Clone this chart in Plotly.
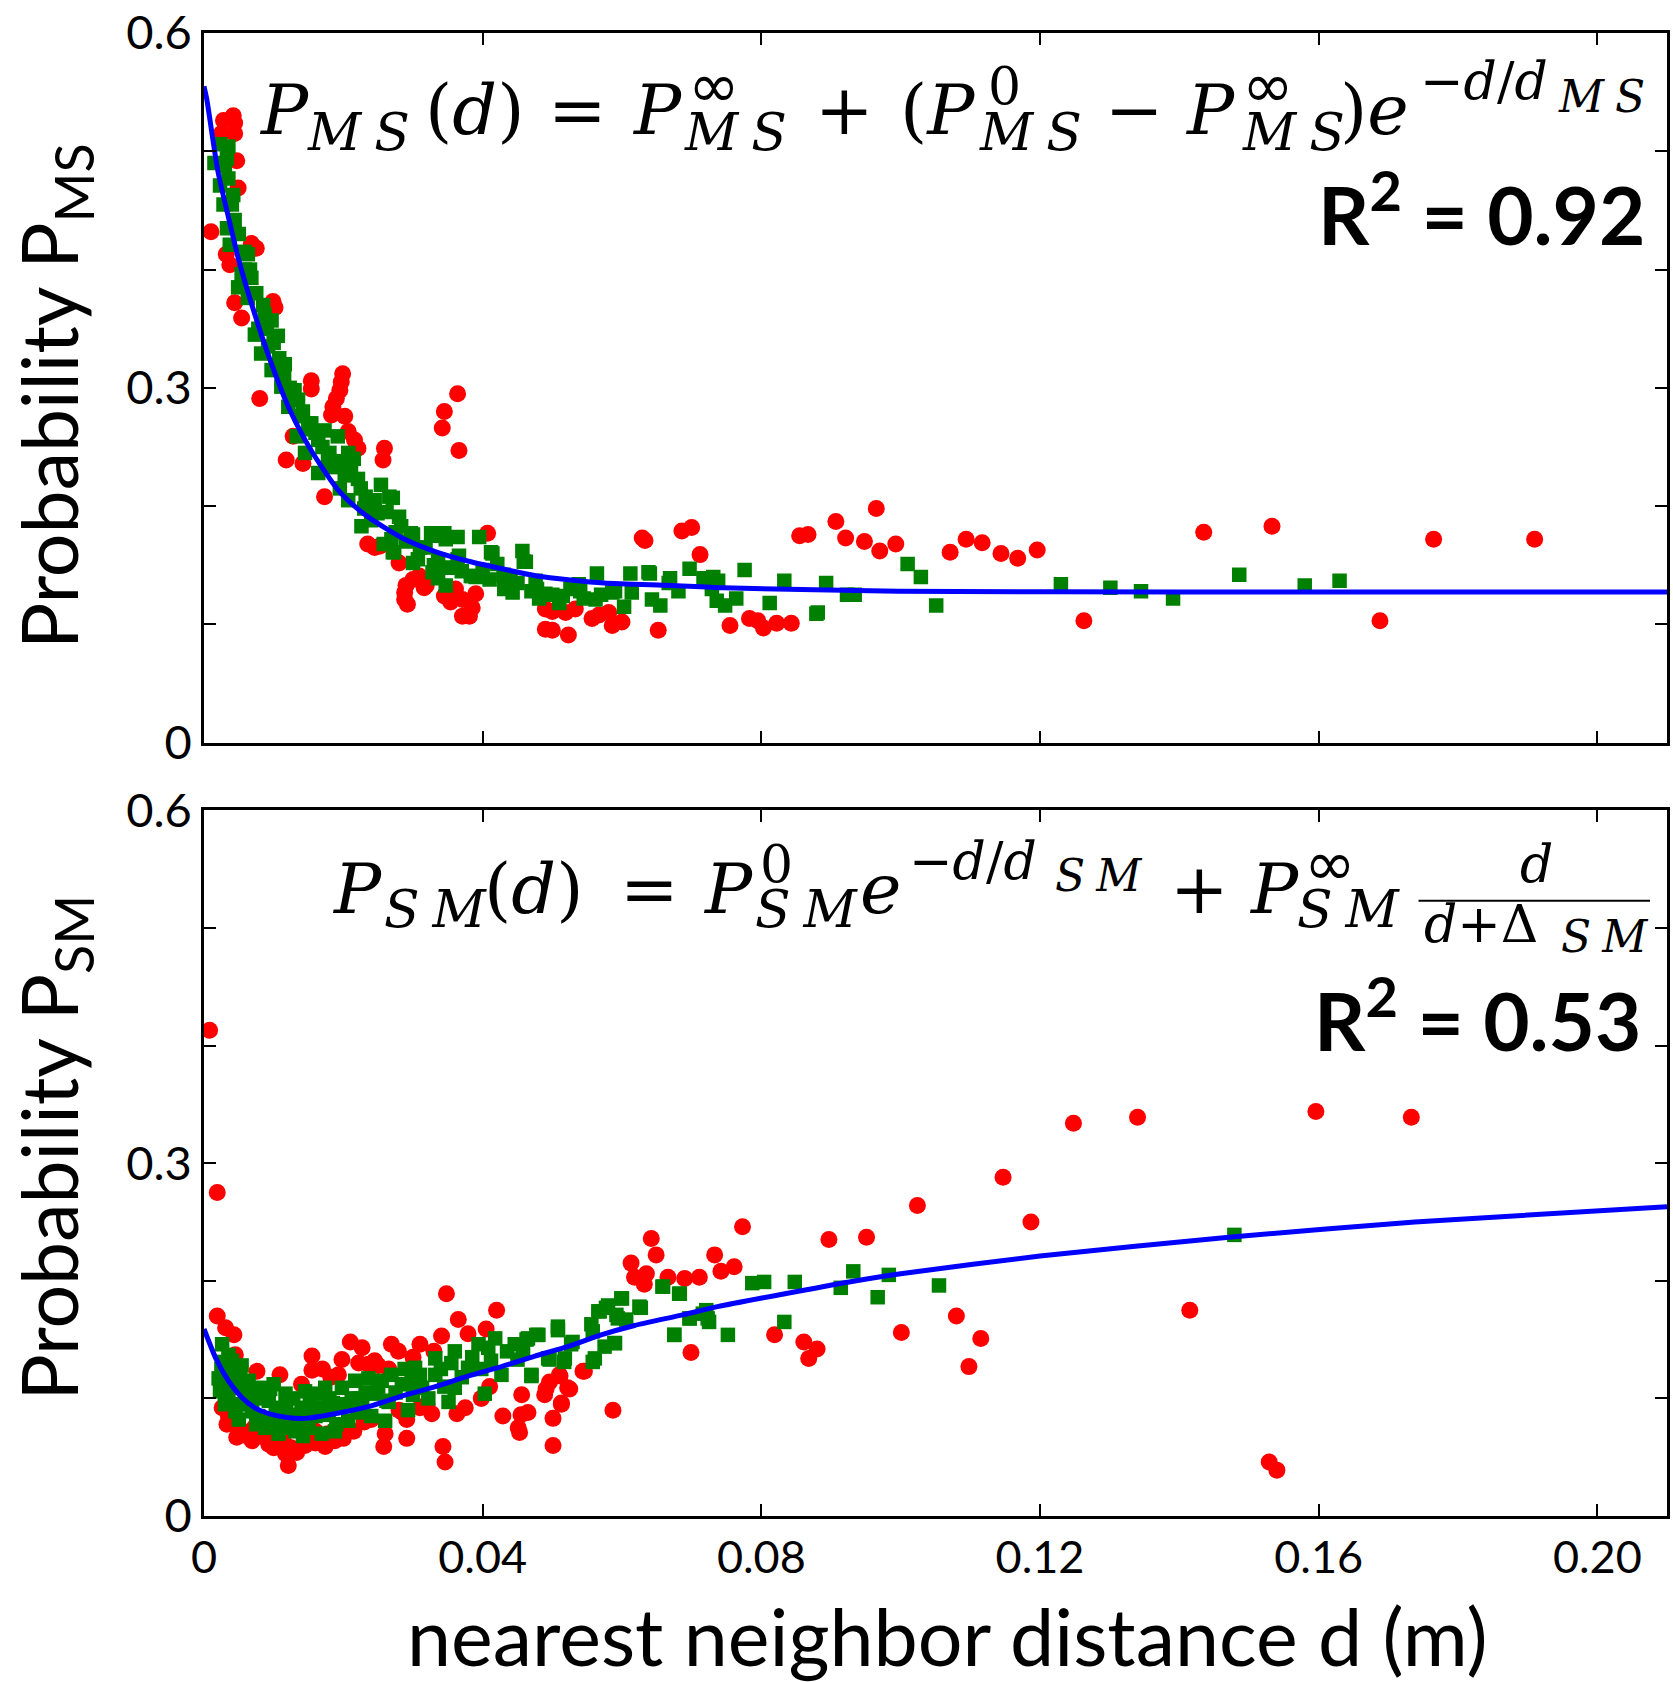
import plotly.graph_objects as go

# ---------------- data: top panel (P_MS) ----------------
ms_red_d = [0.0010, 0.0025, 0.0028, 0.0042, 0.0044, 0.0044, 0.0047, 0.0049, 0.0068, 0.0075,
            0.0032, 0.0037, 0.0099, 0.0102, 0.0044, 0.0054, 0.0080, 0.0154, 0.0154, 0.0199,
            0.0197, 0.0195, 0.0190, 0.0185, 0.0183, 0.0202, 0.0207, 0.0216, 0.0221, 0.0128,
            0.0118, 0.0142, 0.0173, 0.0259, 0.0257, 0.0364, 0.0345, 0.0342, 0.0366, 0.0235,
            0.0245, 0.0252, 0.0407, 0.0280, 0.0288, 0.0288, 0.0290, 0.0300, 0.0319, 0.0309,
            0.0347, 0.0354, 0.0371, 0.0381, 0.0385, 0.0390, 0.0371, 0.0361, 0.0316, 0.0345,
            0.0292, 0.0490, 0.0500, 0.0490, 0.0500, 0.0523, 0.0519, 0.0533, 0.0557, 0.0567,
            0.0586, 0.0600, 0.0581, 0.0629, 0.0633, 0.0652, 0.0686, 0.0700, 0.0712, 0.0755,
            0.0783, 0.0795, 0.0803, 0.0822, 0.0843, 0.0855, 0.0867, 0.0907, 0.0921, 0.0948,
            0.0965, 0.0970, 0.0993, 0.1071, 0.1094, 0.1117, 0.1144, 0.1168, 0.1196, 0.1263,
            0.1435, 0.1533, 0.1688, 0.1765, 0.1910]
ms_red_p = [0.432, 0.515, 0.526, 0.530, 0.524, 0.515, 0.492, 0.469, 0.422, 0.418,
            0.413, 0.404, 0.373, 0.368, 0.372, 0.359, 0.291, 0.306, 0.299, 0.312,
            0.305, 0.298, 0.291, 0.284, 0.277, 0.276, 0.263, 0.256, 0.249, 0.259,
            0.239, 0.236, 0.208, 0.249, 0.239, 0.295, 0.280, 0.266, 0.247, 0.168,
            0.165, 0.166, 0.177, 0.152, 0.127, 0.121, 0.133, 0.138, 0.133, 0.141,
            0.126, 0.119, 0.107, 0.107, 0.114, 0.126, 0.121, 0.130, 0.131, 0.124,
            0.117, 0.113, 0.111, 0.096, 0.095, 0.091, 0.110, 0.113, 0.105, 0.108,
            0.099, 0.102, 0.110, 0.173, 0.171, 0.095, 0.179, 0.182, 0.159, 0.099,
            0.105, 0.103, 0.097, 0.101, 0.101, 0.175, 0.176, 0.187, 0.173, 0.170,
            0.198, 0.162, 0.168, 0.161, 0.172, 0.169, 0.160, 0.156, 0.163, 0.103,
            0.178, 0.183, 0.103, 0.172, 0.172]

ms_green_d = [0.0023, 0.0035, 0.0033, 0.0023, 0.0035, 0.0042, 0.0044, 0.0033, 0.0037, 0.0063,
              0.0054, 0.0068, 0.0049, 0.0063, 0.0087, 0.0097, 0.0073, 0.0106, 0.0082, 0.0116,
              0.0097, 0.0111, 0.0130, 0.0121, 0.0140, 0.0133, 0.0154, 0.0164, 0.0173, 0.0192,
              0.0145, 0.0164, 0.0183, 0.0207, 0.0211, 0.0221, 0.0202, 0.0254, 0.0266, 0.0207,
              0.0230, 0.0249, 0.0226, 0.0283, 0.0269, 0.0297, 0.0326, 0.0345, 0.0364, 0.0395,
              0.0273, 0.0307, 0.0336, 0.0364, 0.0412, 0.0457, 0.0459, 0.0421, 0.0383, 0.0336,
              0.0564, 0.0612, 0.0640, 0.0697, 0.0669, 0.0731, 0.0431, 0.0478, 0.0526, 0.0271,
              0.0280, 0.0300, 0.0271, 0.0300, 0.0328, 0.0347, 0.0366, 0.0414, 0.0462, 0.0328,
              0.0347, 0.0385, 0.0443, 0.0476, 0.0481, 0.0510, 0.0538, 0.0562, 0.0586, 0.0603,
              0.0638, 0.0614, 0.0643, 0.0655, 0.0667, 0.0681, 0.0717, 0.0738, 0.0729, 0.0736,
              0.0748, 0.0764, 0.0776, 0.0812, 0.0833, 0.0881, 0.0893, 0.0934, 0.1010, 0.1029,
              0.1051, 0.1230, 0.1301, 0.1345, 0.1391, 0.1486, 0.1580, 0.1630, 0.0923, 0.0879,
              0.0015, 0.0028, 0.0058, 0.0078, 0.0092, 0.0125, 0.0150, 0.0178, 0.0195, 0.0240,
              0.0258, 0.0318, 0.0352, 0.0400, 0.0440, 0.0500, 0.0545, 0.0590,
              0.0030, 0.0040, 0.0050, 0.0058, 0.0066, 0.0075, 0.0085, 0.0090, 0.0100, 0.0108,
              0.0115, 0.0123, 0.0135, 0.0142, 0.0150, 0.0160, 0.0170, 0.0180, 0.0188, 0.0198,
              0.0215, 0.0225, 0.0232, 0.0245, 0.0262, 0.0275, 0.0290, 0.0310, 0.0330, 0.0350,
              0.0370, 0.0390, 0.0410, 0.0430, 0.0450, 0.0470, 0.0490, 0.0515, 0.0540, 0.0570]
ms_green_p = [0.506, 0.504, 0.494, 0.471, 0.477, 0.463, 0.442, 0.435, 0.421, 0.413,
              0.396, 0.393, 0.385, 0.376, 0.362, 0.357, 0.345, 0.344, 0.329, 0.320,
              0.315, 0.301, 0.298, 0.284, 0.276, 0.259, 0.270, 0.256, 0.264, 0.259,
              0.245, 0.228, 0.233, 0.245, 0.231, 0.223, 0.226, 0.218, 0.208, 0.205,
              0.198, 0.194, 0.183, 0.183, 0.172, 0.177, 0.177, 0.177, 0.174, 0.174,
              0.161, 0.155, 0.155, 0.155, 0.161, 0.162, 0.153, 0.151, 0.141, 0.139,
              0.143, 0.143, 0.143, 0.147, 0.139, 0.140, 0.130, 0.130, 0.130, 0.207,
              0.191, 0.176, 0.161, 0.152, 0.175, 0.172, 0.158, 0.160, 0.153, 0.144,
              0.133, 0.141, 0.127, 0.137, 0.122, 0.118, 0.134, 0.121, 0.127, 0.115,
              0.144, 0.127, 0.121, 0.116, 0.135, 0.128, 0.139, 0.137, 0.130, 0.120,
              0.116, 0.122, 0.146, 0.118, 0.137, 0.110, 0.135, 0.125, 0.151, 0.140,
              0.116, 0.134, 0.131, 0.128, 0.122, 0.142, 0.133, 0.137, 0.125, 0.109,
              0.490, 0.455, 0.400, 0.350, 0.335, 0.290, 0.265, 0.240, 0.215, 0.188,
              0.168, 0.165, 0.148, 0.146, 0.140, 0.125, 0.122, 0.128,
              0.488, 0.455, 0.430, 0.415, 0.400, 0.380, 0.370, 0.350, 0.338, 0.325,
              0.310, 0.300, 0.290, 0.280, 0.270, 0.262, 0.250, 0.245, 0.238, 0.235,
              0.240, 0.215, 0.208, 0.205, 0.195, 0.178, 0.170, 0.165, 0.150, 0.148,
              0.145, 0.140, 0.138, 0.142, 0.135, 0.128, 0.126, 0.124, 0.128, 0.125]

ms_fit_d = [0.0, 0.0004, 0.0020, 0.0040, 0.0049, 0.0073, 0.0097, 0.0121, 0.0145, 0.0168,
            0.0192, 0.0216, 0.0240, 0.0288, 0.0335, 0.0383, 0.0478, 0.0574, 0.0669, 0.0745,
            0.0996, 0.1400, 0.2100]
ms_fit_p = [0.555, 0.544, 0.483, 0.432, 0.410, 0.362, 0.320, 0.284, 0.256, 0.234,
            0.214, 0.200, 0.189, 0.172, 0.161, 0.153, 0.141, 0.135, 0.133, 0.131,
            0.128, 0.1275, 0.1275]

# ---------------- data: bottom panel (P_SM) ----------------
sm_red_d = [0.0008, 0.0019, 0.0019, 0.0031, 0.0043, 0.0045, 0.0026, 0.0033, 0.0047, 0.0069,
            0.0076, 0.0093, 0.0100, 0.0109, 0.0121, 0.0117, 0.0133, 0.0140, 0.0155, 0.0155,
            0.0174, 0.0188, 0.0193, 0.0198, 0.0210, 0.0227, 0.0236, 0.0250, 0.0258, 0.0260,
            0.0269, 0.0279, 0.0291, 0.0291, 0.0310, 0.0327, 0.0341, 0.0343, 0.0346, 0.0348,
            0.0365, 0.0379, 0.0363, 0.0405, 0.0420, 0.0398, 0.0429, 0.0451, 0.0456, 0.0465,
            0.0489, 0.0501, 0.0501, 0.0513, 0.0496, 0.0522, 0.0510, 0.0546, 0.0587, 0.0613,
            0.0618, 0.0632, 0.0642, 0.0649, 0.0666, 0.0690, 0.0711, 0.0733, 0.0699, 0.0635,
            0.0742, 0.0761, 0.0773, 0.0897, 0.0951, 0.1024, 0.1147, 0.1187, 0.0819, 0.0861,
            0.0880, 0.0868, 0.1001, 0.1080, 0.1115, 0.1098, 0.0491, 0.0511, 0.0525, 0.0544,
            0.0513, 0.0453, 0.0455, 0.1248, 0.1340, 0.1596, 0.1733, 0.1415, 0.1529, 0.1540,
            0.0055, 0.0080, 0.0110, 0.0160, 0.0205, 0.0240, 0.0285, 0.0320, 0.0375, 0.0410,
            0.0035, 0.0050, 0.0062, 0.0072, 0.0088, 0.0098, 0.0115, 0.0125, 0.0145, 0.0160,
            0.0178, 0.0200, 0.0215, 0.0230, 0.0170, 0.0182, 0.0222, 0.0245, 0.0265, 0.0300,
            0.0330, 0.0280, 0.0310]
sm_red_p = [0.413, 0.275, 0.170, 0.160, 0.154, 0.137, 0.092, 0.078, 0.067, 0.064,
            0.123, 0.061, 0.058, 0.120, 0.043, 0.053, 0.054, 0.112, 0.136, 0.124,
            0.059, 0.064, 0.120, 0.133, 0.148, 0.143, 0.129, 0.128, 0.059, 0.070,
            0.146, 0.140, 0.066, 0.082, 0.146, 0.087, 0.153, 0.059, 0.046, 0.189,
            0.167, 0.155, 0.087, 0.159, 0.175, 0.100, 0.085, 0.075, 0.103, 0.088,
            0.103, 0.083, 0.060, 0.096, 0.114, 0.109, 0.120, 0.123, 0.090, 0.215,
            0.203, 0.197, 0.236, 0.222, 0.203, 0.202, 0.203, 0.222, 0.139, 0.206,
            0.208, 0.212, 0.246, 0.235, 0.237, 0.264, 0.288, 0.250, 0.154, 0.148,
            0.142, 0.134, 0.156, 0.170, 0.151, 0.127, 0.108, 0.119, 0.108, 0.123,
            0.095, 0.071, 0.086, 0.334, 0.339, 0.344, 0.339, 0.175, 0.046, 0.039,
            0.072, 0.068, 0.066, 0.072, 0.078, 0.082, 0.088, 0.095, 0.092, 0.110,
            0.085, 0.075, 0.068, 0.075, 0.068, 0.070, 0.062, 0.058, 0.060, 0.062,
            0.070, 0.066, 0.072, 0.080, 0.125, 0.118, 0.130, 0.132, 0.125, 0.135,
            0.140, 0.090, 0.092]

sm_green_d = [0.0026, 0.0026, 0.0021, 0.0023, 0.0035, 0.0040, 0.0045, 0.0054, 0.0059, 0.0069,
              0.0045, 0.0064, 0.0081, 0.0093, 0.0098, 0.0107, 0.0100, 0.0117, 0.0121, 0.0131,
              0.0140, 0.0150, 0.0145, 0.0165, 0.0169, 0.0179, 0.0188, 0.0174, 0.0198, 0.0207,
              0.0203, 0.0217, 0.0227, 0.0236, 0.0246, 0.0260, 0.0255, 0.0269, 0.0284, 0.0293,
              0.0303, 0.0313, 0.0332, 0.0332, 0.0351, 0.0360, 0.0360, 0.0379, 0.0394, 0.0408,
              0.0418, 0.0403, 0.0427, 0.0446, 0.0465, 0.0480, 0.0470, 0.0494, 0.0508, 0.0518,
              0.0527, 0.0556, 0.0561, 0.0566, 0.0580, 0.0589, 0.0599, 0.0594, 0.0625, 0.0658,
              0.0683, 0.0675, 0.0697, 0.0723, 0.0721, 0.0463, 0.0477, 0.0508, 0.0470, 0.0496,
              0.0517, 0.0529, 0.0558, 0.0568, 0.0577, 0.0592, 0.0558, 0.0575, 0.0590, 0.0600,
              0.0627, 0.0606, 0.0659, 0.0682, 0.0675, 0.0697, 0.0716, 0.0725, 0.0752, 0.0787,
              0.0804, 0.0848, 0.0833, 0.0914, 0.0932, 0.0967, 0.0983, 0.1055, 0.1479,
              0.0030, 0.0050, 0.0075, 0.0112, 0.0135, 0.0158, 0.0185, 0.0222, 0.0265, 0.0300,
              0.0025, 0.0028, 0.0035, 0.0040, 0.0048, 0.0052, 0.0060, 0.0065, 0.0070, 0.0078,
              0.0085, 0.0088, 0.0095, 0.0103, 0.0110, 0.0118, 0.0125, 0.0128, 0.0138, 0.0142,
              0.0152, 0.0160, 0.0168, 0.0180, 0.0190, 0.0195, 0.0212, 0.0220, 0.0232, 0.0240,
              0.0250, 0.0262, 0.0275, 0.0288, 0.0298, 0.0310, 0.0322, 0.0340, 0.0345, 0.0355,
              0.0370, 0.0385, 0.0398, 0.0412, 0.0435, 0.0450, 0.0458]
sm_green_p = [0.146, 0.131, 0.117, 0.106, 0.137, 0.120, 0.109, 0.128, 0.101, 0.089,
              0.089, 0.115, 0.109, 0.098, 0.081, 0.070, 0.112, 0.104, 0.086, 0.072,
              0.092, 0.075, 0.106, 0.104, 0.070, 0.086, 0.072, 0.109, 0.109, 0.081,
              0.095, 0.115, 0.097, 0.117, 0.104, 0.081, 0.115, 0.120, 0.112, 0.090,
              0.126, 0.109, 0.120, 0.134, 0.097, 0.109, 0.140, 0.126, 0.146, 0.143,
              0.151, 0.104, 0.120, 0.146, 0.151, 0.154, 0.120, 0.134, 0.161, 0.134,
              0.146, 0.163, 0.134, 0.174, 0.179, 0.147, 0.185, 0.168, 0.178, 0.195,
              0.189, 0.154, 0.168, 0.168, 0.175, 0.150, 0.154, 0.158, 0.119, 0.133,
              0.131, 0.148, 0.131, 0.174, 0.177, 0.171, 0.157, 0.144, 0.147, 0.185,
              0.177, 0.167, 0.195, 0.189, 0.154, 0.168, 0.172, 0.165, 0.154, 0.198,
              0.199, 0.199, 0.165, 0.194, 0.208, 0.186, 0.205, 0.196, 0.239,
              0.095, 0.082, 0.078, 0.090, 0.080, 0.088, 0.096, 0.100, 0.097, 0.103,
              0.125, 0.110, 0.100, 0.132, 0.095, 0.118, 0.112, 0.095, 0.105, 0.085,
              0.100, 0.075, 0.108, 0.092, 0.078, 0.095, 0.075, 0.100, 0.082, 0.068,
              0.098, 0.085, 0.092, 0.100, 0.078, 0.095, 0.100, 0.088, 0.105, 0.085,
              0.110, 0.098, 0.105, 0.125, 0.115, 0.120, 0.100, 0.125, 0.110, 0.130,
              0.118, 0.135, 0.125, 0.132, 0.140, 0.133, 0.140]

sm_fit_d = [0.0, 0.0017, 0.0035, 0.0054, 0.0073, 0.0093, 0.0117, 0.0145, 0.0188, 0.0236,
            0.0284, 0.0332, 0.0379, 0.0427, 0.0475, 0.0522, 0.0570, 0.0618, 0.0687, 0.0737,
            0.0926, 0.1000, 0.1200, 0.1471, 0.1738, 0.2100]
sm_fit_p = [0.159, 0.134, 0.115, 0.101, 0.092, 0.087, 0.084, 0.083, 0.087, 0.093,
            0.102, 0.110, 0.119, 0.127, 0.136, 0.144, 0.154, 0.162, 0.171, 0.178,
            0.199, 0.206, 0.221, 0.237, 0.250, 0.263]

y_ticks = [0, 0.3, 0.6]
y_ticktext = ["0", "0.3", "0.6"]
x_ticks = [0, 0.04, 0.08, 0.12, 0.16, 0.20]
x_ticktext = ["0", "0.04", "0.08", "0.12", "0.16", "0.20"]

# ---------------- page geometry (pixels) ----------------
W, H = 1673, 1682
ML, MR, MT, MB = 204, 3, 24, 166
PW = W - ML - MR
PH = H - MT - MB


def px(x):
    return (x - ML) / PW


def py(y):
    return (H - MB - y) / PH


SANS = "Lato"
SERIF = "DejaVu Serif"
RED, GREEN, BLUE = "#ff0000", "#008000", "#0000ff"

fig = go.Figure()

for (rd, rp, gd, gp, fd, fp, xa, ya) in [
    (ms_red_d, ms_red_p, ms_green_d, ms_green_p, ms_fit_d, ms_fit_p, "x", "y"),
    (sm_red_d, sm_red_p, sm_green_d, sm_green_p, sm_fit_d, sm_fit_p, "x2", "y2"),
]:
    fig.add_trace(go.Scatter(x=rd, y=rp, mode="markers", xaxis=xa, yaxis=ya,
                             marker=dict(symbol="circle", size=17, color=RED, line=dict(width=0)),
                             showlegend=False, cliponaxis=True))
    fig.add_trace(go.Scatter(x=gd, y=gp, mode="markers", xaxis=xa, yaxis=ya,
                             marker=dict(symbol="square", size=14.5, color=GREEN, line=dict(width=0)),
                             showlegend=False, cliponaxis=True))
    fig.add_trace(go.Scatter(x=fd, y=fp, mode="lines", xaxis=xa, yaxis=ya,
                             line=dict(color=BLUE, width=5, shape="spline", smoothing=0.6),
                             showlegend=False))

axis_common = dict(showline=True, linecolor="black", linewidth=2.5, mirror="ticks",
                   ticks="inside", ticklen=12, tickwidth=1.5, tickcolor="black",
                   showgrid=False, zeroline=False)
y_minor = dict(dtick=0.1, tick0=0, ticks="inside", ticklen=12, tickwidth=1.5,
               tickcolor="black", showgrid=False)

top_dom = [py(738), 1.0]
bot_dom = [0.0, py(806)]

fig.update_layout(
    width=W, height=H,
    margin=dict(l=ML, r=MR, t=MT, b=MB),
    paper_bgcolor="white", plot_bgcolor="white",
    xaxis=dict(range=[0, 0.21], domain=[0, 1], anchor="y", tickvals=x_ticks,
               showticklabels=False, **axis_common),
    yaxis=dict(range=[0, 0.6], domain=top_dom, anchor="x", tickvals=y_ticks,
               ticktext=y_ticktext, ticklabelstandoff=0, minor=y_minor,
               tickfont=dict(family=SANS, size=47, color="black"), **axis_common),
    xaxis2=dict(range=[0, 0.21], domain=[0, 1], anchor="y2", tickvals=x_ticks,
                ticktext=x_ticktext, ticklabelstandoff=0,
                tickfont=dict(family=SANS, size=45, color="black"), **axis_common),
    yaxis2=dict(range=[0, 0.6], domain=bot_dom, anchor="x2", tickvals=y_ticks,
                ticktext=y_ticktext, ticklabelstandoff=0, minor=y_minor,
                tickfont=dict(family=SANS, size=47, color="black"), **axis_common),
)

ann = []


def text_at(txt, x, y, size, family=SANS, xanchor="center", angle=0):
    ann.append(dict(text=txt, x=px(x), y=py(y), xref="paper", yref="paper",
                    xanchor=xanchor, yanchor="middle", showarrow=False, textangle=angle,
                    borderpad=0, font=dict(family=family, size=size, color="black")))


def math_piece(txt, x_left, baseline, size, family=SERIF):
    # box centre sits a little above the baseline
    text_at(txt, x_left, baseline - 0.28 * size - 12, size, family=family, xanchor="left")


# axis titles
text_at("Probability P<sub>MS</sub>", 53, 389, 77, angle=-90)
text_at("Probability P<sub>SM</sub>", 53, 1145, 77, angle=-90)
text_at("nearest neighbor distance d (m)", 949, 1636, 79)

# R^2 values
ann.append(dict(text="<b>R<sup>2</sup> = 0.92</b>", x=px(1649), y=py(201), xref="paper", yref="paper",
                xanchor="right", yanchor="middle", showarrow=False, borderpad=0,
                font=dict(family=SANS, size=80, color="black")))
ann.append(dict(text="<b>R<sup>2</sup> = 0.53</b>", x=px(1645), y=py(1012), xref="paper", yref="paper",
                xanchor="right", yanchor="middle", showarrow=False, borderpad=0,
                font=dict(family=SANS, size=80, color="black")))

SP = "\u2005"          # small gap between subscript letters
MS = "<i>M" + SP + "S</i>"
SM = "<i>S" + SP + "M</i>"
BIG, SCR, SUP, SS, INF = 70, 52, 52, 44, 62
INF_FONT = "DejaVu Sans"

# P_MS(d) = P^inf_MS + (P^0_MS - P^inf_MS) e^{-d/d_MS}
for txt, xl, bl, sz, fam in [
    ("<i>P</i>", 258, 133, BIG, SERIF), (MS, 306, 150, SCR, SERIF),
    ("(<i>d</i>)", 424, 133, BIG, SERIF), ("=", 548, 133, BIG, SERIF),
    ("<i>P</i>", 632, 133, BIG, SERIF), ("∞", 688, 106, INF, INF_FONT), (MS, 684, 150, SCR, SERIF),
    ("+", 815, 133, BIG, SERIF),
    ("(<i>P</i>", 900, 133, BIG, SERIF), ("0", 989, 104, SUP, SERIF), (MS, 980, 150, SCR, SERIF),
    ("−", 1106, 133, BIG, SERIF),
    ("<i>P</i>", 1186, 133, BIG, SERIF), ("∞", 1243, 106, INF, INF_FONT), (MS, 1243, 150, SCR, SERIF),
    (")<i>e</i>", 1341, 133, BIG, SERIF),
    ("−<i>d</i>/<i>d</i>", 1421, 99, SUP, SERIF), (MS, 1560, 112, SS, SERIF),
]:
    math_piece(txt, xl, bl, sz, fam)

# P_SM(d) = P^0_SM e^{-d/d_SM} + P^inf_SM d/(d+Delta_SM)
for txt, xl, bl, sz, fam in [
    ("<i>P</i>", 331, 917, BIG, SERIF), (SM, 383, 932, SCR, SERIF),
    ("(<i>d</i>)", 484, 917, BIG, SERIF), ("=", 620, 917, BIG, SERIF),
    ("<i>P</i>", 703, 917, BIG, SERIF), ("0", 760, 887, SUP, SERIF), (SM, 755, 932, SCR, SERIF),
    ("<i>e</i>", 860, 917, BIG, SERIF),
    ("−<i>d</i>/<i>d</i>", 909, 884, SUP, SERIF), (SM, 1056, 896, SS, SERIF),
    ("+", 1171, 917, BIG, SERIF),
    ("<i>P</i>", 1250, 917, BIG, SERIF), ("∞", 1305, 889, INF, INF_FONT), (SM, 1298, 932, SCR, SERIF),
    ("<i>d</i>", 1522, 887, SUP, SERIF),
    ("<i>d</i>+Δ", 1425, 947, SUP, SERIF), (SM, 1563, 957, SS, SERIF),
]:
    math_piece(txt, xl, bl, sz, fam)

fig.update_layout(annotations=ann)

# fraction bar
fig.add_shape(type="line", xref="paper", yref="paper", x0=px(1421), x1=px(1653),
              y0=py(897), y1=py(897), line=dict(color="black", width=2))

fig.write_html("out.html")
